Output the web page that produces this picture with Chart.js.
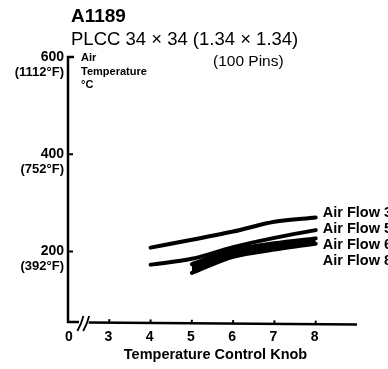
<!DOCTYPE html>
<html>
<head>
<meta charset="utf-8">
<title>A1189 PLCC 34 × 34</title>
<script src="https://cdn.jsdelivr.net/npm/chart.js@4/dist/chart.umd.min.js"></script>
<style>
  html, body { margin: 0; padding: 0; background: #fff; }
  #wrap { width: 388px; height: 369px; position: relative; }
</style>
</head>
<body>
<div id="wrap"><canvas id="chart" width="388" height="369"></canvas></div>
<script>
// Temperature control knob settings
const knobSettings = [4, 5, 6, 7, 8];
const knobSettingsHighFlow = [5, 6, 7, 8];

// Air temperature (°C) per knob setting, one array per air flow
const airFlow3 = [208, 224, 241, 261, 270];
const airFlow5 = [173, 185, 209, 228, 244];
const airFlow6 = [174, 203, 217, 227];
const airFlow8 = [156, 189, 204, 216];

const seriesLabels = ['Air Flow 3', 'Air Flow 5', 'Air Flow 6', 'Air Flow 8'];

// Axis ticks
const xTickValues = [3, 4, 5, 6, 7, 8];
const yTickValues = [600, 400, 200];
const yTickFahrenheit = ['(1112°F)', '(752°F)', '(392°F)'];

const FONT = '"Liberation Sans", Arial, Helvetica, sans-serif';

function points(xs, ys) {
  return xs.map((x, i) => ({ x: x, y: ys[i] }));
}

function lineSet(label, xs, ys, extra) {
  return Object.assign({
    label: label,
    data: points(xs, ys),
    borderColor: '#000',
    backgroundColor: '#000',
    borderWidth: 4,
    pointRadius: 0,
    cubicInterpolationMode: 'monotone',
    borderCapStyle: 'round',
    fill: false
  }, extra || {});
}

// Axes, tick labels, titles and series labels are drawn by hand
const annotations = {
  id: 'annotations',
  afterDraw(chart) {
    const ctx = chart.ctx;
    const xs = chart.scales.x;
    const ys = chart.scales.y;
    const area = chart.chartArea;
    const X = v => xs.getPixelForValue(v);
    const Y = v => ys.getPixelForValue(v);

    ctx.save();
    ctx.strokeStyle = '#000';
    ctx.fillStyle = '#000';
    ctx.lineCap = 'butt';

    // y axis with stub at the top and ticks pointing right
    ctx.lineWidth = 2.5;
    ctx.beginPath();
    ctx.moveTo(area.left + 6, area.top);
    ctx.lineTo(area.left, area.top);
    ctx.lineTo(area.left, area.bottom);
    ctx.lineTo(area.left + 11, area.bottom);
    ctx.stroke();
    ctx.lineWidth = 2;
    yTickValues.slice(1).forEach(v => {
      ctx.beginPath();
      ctx.moveTo(area.left, Y(v));
      ctx.lineTo(area.left + 5, Y(v));
      ctx.stroke();
    });

    // x axis after the break
    ctx.lineWidth = 2.5;
    ctx.beginPath();
    ctx.moveTo(X(2.5), area.bottom + 0.5);
    ctx.lineTo(area.right, area.bottom + 2.5);
    ctx.stroke();

    // axis break marks
    ctx.lineWidth = 1.8;
    [2.3, 2.44].forEach(v => {
      ctx.beginPath();
      ctx.moveTo(X(v) - 3, area.bottom + 9);
      ctx.quadraticCurveTo(X(v) + 1, area.bottom + 2, X(v) + 3, area.bottom - 6);
      ctx.stroke();
    });

    // x ticks pointing up
    ctx.lineWidth = 2;
    xTickValues.forEach(v => {
      const y0 = area.bottom + 1 + (v - 2.5) * 0.3;
      ctx.beginPath();
      ctx.moveTo(X(v), y0);
      ctx.lineTo(X(v), y0 - 4);
      ctx.stroke();
    });

    // x tick labels
    ctx.font = 'bold 14px ' + FONT;
    ctx.textAlign = 'center';
    ctx.textBaseline = 'middle';
    ctx.fillText('0', area.left + 1, area.bottom + 15);
    xTickValues.forEach(v => ctx.fillText(String(v), X(v) - 1, area.bottom + 15));

    // x axis title
    ctx.font = 'bold 14.5px ' + FONT;
    ctx.fillText('Temperature Control Knob', (X(3) + X(8)) / 2 + 3, area.bottom + 33);

    // y tick labels: °C with °F beneath
    ctx.textAlign = 'right';
    yTickValues.forEach((v, i) => {
      ctx.font = 'bold 14px ' + FONT;
      ctx.fillText(String(v), area.left - 4, Y(v));
      ctx.font = 'bold 13px ' + FONT;
      ctx.fillText(yTickFahrenheit[i], area.left - 4, Y(v) + 15);
    });

    // y axis title
    ctx.textAlign = 'left';
    ctx.font = 'bold 11px ' + FONT;
    ctx.fillText('Air', area.left + 13, area.top + 1);
    ctx.fillText('Temperature', area.left + 13, area.top + 15);
    ctx.fillText('°C', area.left + 13, area.top + 28);

    // chart titles
    ctx.textBaseline = 'alphabetic';
    ctx.font = 'bold 19px ' + FONT;
    ctx.fillText('A1189', 71, 22);
    ctx.font = '18.5px ' + FONT;
    ctx.fillText('PLCC 34 × 34 (1.34 × 1.34)', 71, 45);
    ctx.font = '15.5px ' + FONT;
    ctx.fillText('(100 Pins)', 213, 66);

    // series labels at the right end of the curves
    ctx.font = 'bold 14.5px ' + FONT;
    ctx.textBaseline = 'middle';
    const labelX = X(8) + 7;
    const labelY0 = Y(270) - 4;
    seriesLabels.forEach((t, i) => ctx.fillText(t, labelX, labelY0 + i * 16));

    ctx.restore();
  }
};

new Chart(document.getElementById('chart'), {
  type: 'line',
  data: {
    datasets: [
      lineSet(seriesLabels[0], knobSettings, airFlow3),
      lineSet(seriesLabels[1], knobSettings, airFlow5),
      lineSet(seriesLabels[2], knobSettingsHighFlow, airFlow6),
      lineSet(seriesLabels[3], knobSettingsHighFlow, airFlow8, { fill: '-1' })
    ]
  },
  options: {
    responsive: false,
    animation: false,
    layout: { padding: { left: 68, top: 57, right: 31, bottom: 47 } },
    plugins: { legend: { display: false }, tooltip: { enabled: false } },
    scales: {
      x: { type: 'linear', min: 2, max: 9, display: false },
      y: { type: 'linear', min: 55, max: 600, display: false }
    }
  },
  plugins: [annotations]
});
</script>
</body>
</html>
